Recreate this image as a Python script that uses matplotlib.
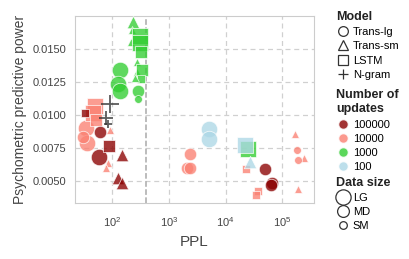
import matplotlib
matplotlib.use("Agg")
import matplotlib.pyplot as plt
from matplotlib.lines import Line2D

plt.rcParams["font.family"] = ["Liberation Sans", "DejaVu Sans"]
plt.rcParams["mathtext.default"] = "regular"

# ==============================
# data
# ==============================
ppl = [234, 225, 216, 312, 312, 325, 276, 276, 338, 325, 255, 138, 128, 138, 288, 288,
       34.8, 36.5, 30.8, 50.1, 46.2, 52.2, 92.2, 85, 78.4,
       2375, 2100, 2375, 22800, 37150, 34200, 169000, 243000, 188400, 180900, 190500,
       59, 61.4, 88.5, 33.4, 150, 129, 148, 49930, 66370, 63680,
       24720,
       5140, 5140, 22180, 27160,
       92.2, 78.4, 85]
power = [0.01705, 0.01644, 0.01553, 0.01599, 0.01545, 0.01477, 0.01402, 0.01326, 0.01341, 0.01273,
         0.01280, 0.01341, 0.01235, 0.01182, 0.01182, 0.01121,
         0.00902, 0.00788, 0.00833, 0.01068, 0.01015, 0.00962, 0.00886, 0.00636, 0.00598,
         0.00705, 0.00598, 0.00598, 0.00591, 0.00424, 0.00394, 0.00856, 0.00674, 0.00439, 0.00735, 0.00659,
         0.00682, 0.00871, 0.00765, 0.01015, 0.00697, 0.00523, 0.00485, 0.00591, 0.00485, 0.00470,
         0.00742,
         0.00894, 0.00818, 0.00773, 0.00644,
         0.01083, 0.00977, 0.00932]
model = ["Trans-sm", "Trans-sm", "Trans-sm", "LSTM", "LSTM", "LSTM", "Trans-sm", "Trans-sm", "LSTM", "LSTM",
         "Trans-sm", "Trans-lg", "Trans-lg", "Trans-lg", "Trans-lg", "Trans-lg",
         "Trans-lg", "Trans-lg", "Trans-lg", "LSTM", "LSTM", "LSTM", "Trans-sm", "Trans-sm", "Trans-sm",
         "Trans-lg", "Trans-lg", "Trans-lg", "LSTM", "LSTM", "LSTM", "Trans-sm", "Trans-sm", "Trans-sm",
         "Trans-lg", "Trans-lg",
         "Trans-lg", "Trans-lg", "LSTM", "LSTM", "Trans-sm", "Trans-sm", "Trans-sm", "Trans-lg", "Trans-lg", "Trans-lg",
         "LSTM",
         "Trans-lg", "Trans-lg", "LSTM", "Trans-sm",
         "N-gram", "N-gram", "N-gram"]
updates = [1000] * 16 + [10000] * 20 + [100000] * 10 + [1000] + [100] * 4 + [None] * 3
data_size = ["MD", "SM", "SM", "LG", "LG", "MD", "SM", "SM", "MD", "SM", "SM", "LG", "LG", "LG", "MD", "SM",
             "LG", "LG", "MD", "LG", "LG", "MD", "SM", "SM", "SM",
             "MD", "MD", "MD", "SM", "SM", "SM", "SM", "SM", "SM", "SM", "SM",
             "LG", "MD", "MD", "SM", "MD", "MD", "MD", "MD", "MD", "MD",
             "LG",
             "LG", "LG", "LG", "MD",
             "LG", "MD", "SM"]

model_names = ["Trans-lg", "Trans-sm", "LSTM", "N-gram"]
update_levels = [100000, 10000, 1000, 100]
size_names = ["LG", "MD", "SM"]

markers = {"Trans-lg": "o", "Trans-sm": "^", "LSTM": "s", "N-gram": "+"}
colors = {100000: "#8b0000", 10000: "#fa8072", 1000: "#32cd32", 100: "#add8e6"}
sizes = {"LG": 140, "MD": 80, "SM": 32}

# ==============================
# plot
# ==============================
fig = plt.figure(figsize=(4.09, 2.59), dpi=100)
ax = fig.add_axes([0.183, 0.216, 0.585, 0.722])

for x, y, m, u, d in zip(ppl, power, model, updates, data_size):
    if m == "N-gram":
        ax.scatter(x, y, marker="+", s=sizes[d] * 1.3, color="#333333", alpha=0.8,
                   linewidths=1.3, zorder=3)
    else:
        ax.scatter(x, y, marker=markers[m], s=sizes[d], color=colors[u], alpha=0.78,
                   edgecolors="white", linewidths=0.6, zorder=3)

ax.axvline(390, color="#aaaaaa", linestyle="--", linewidth=1.1, zorder=1)

ax.set_xscale("log")
ax.set_xlim(22, 365000)
ax.set_ylim(0.00333, 0.0175)
ax.set_yticks([0.005, 0.0075, 0.01, 0.0125, 0.015])
ax.set_yticklabels(["0.0050", "0.0075", "0.0100", "0.0125", "0.0150"])
ax.minorticks_off()
ax.grid(True, color="#d0d0d0", linestyle=(0, (4, 3)), linewidth=0.9, zorder=0)
ax.set_axisbelow(True)
ax.tick_params(axis="y", length=0, labelsize=8, labelcolor="#444444", pad=6)
ax.tick_params(axis="x", length=0, labelsize=8, labelcolor="#444444", pad=9)
for s in ax.spines.values():
    s.set_color("#cccccc")

ax.set_xlabel("PPL", fontsize=11, color="#444444", labelpad=4)
ax.set_ylabel("Psychometric predictive power", fontsize=10, color="#444444", labelpad=4)

# ==============================
# legends
# ==============================
def hollow(mk, ms=7):
    return Line2D([], [], marker=mk, linestyle="", markersize=ms, markerfacecolor="white",
                  markeredgecolor="#333333", markeredgewidth=0.9)

h1 = [hollow(markers[m]) for m in model_names]
h2 = [Line2D([], [], marker="o", linestyle="", markersize=7, color=colors[u], alpha=0.8,
             markeredgecolor="white") for u in update_levels]
h3 = [hollow("o", ms) for ms in [11, 8.5, 5.5]]

common = dict(loc="upper left", frameon=False, fontsize=8, title_fontsize=9,
              alignment="left", handletextpad=0.3, labelspacing=0.38, borderpad=0,
              handlelength=1.2, borderaxespad=0)
l1 = fig.legend(h1, model_names, title="Model", bbox_to_anchor=(0.822, 0.958), **common)
l2 = fig.legend(h2, [str(u) for u in update_levels], title="Number of\nupdates",
                bbox_to_anchor=(0.822, 0.658), **common)
l3 = fig.legend(h3, size_names, title="Data size", bbox_to_anchor=(0.822, 0.318), **common)
for lg in (l1, l2, l3):
    lg.get_title().set_fontweight("bold")
    lg.get_title().set_color("#222222")
    lg.get_title().set_linespacing(1.3)

fig.savefig("out.png", dpi=100)
